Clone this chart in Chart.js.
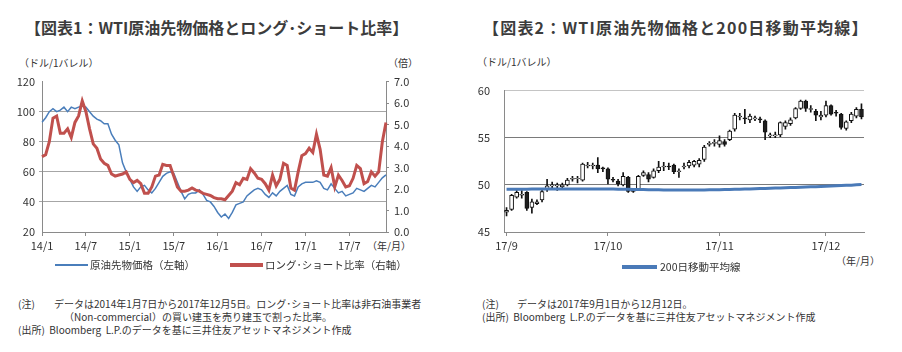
<!DOCTYPE html>
<html>
<head>
<meta charset="utf-8">
<script src="https://cdn.jsdelivr.net/npm/chart.js@4.4.1/dist/chart.umd.min.js"></script>
<style>
  body { margin: 0; background: #fff; font-family: 'Noto Sans CJK JP', 'Noto Sans', sans-serif; color: #333; }
  #page { position: relative; width: 902px; height: 352px; overflow: hidden; }
  .abs { position: absolute; white-space: nowrap; }
  .title { font-size: 16px; font-weight: bold; color: #3c3c3c; top: 17px; line-height: 20px; }
  .unit { font-size: 10px; line-height: 12px; color: #333; }
  .leg { font-size: 10.5px; line-height: 12px; color: #333; }
  .note { font-size: 10px; line-height: 12px; color: #333; }
  .sw { position: absolute; }
  canvas { position: absolute; }
</style>
</head>
<body>
<div id="page">
  <div class="abs title" style="left:25px;">【図表1：WTI原油先物価格とロング･ショート比率】</div>
  <div class="abs title" style="left:483px; letter-spacing:1.2px;">【図表2：WTI原油先物価格と200日移動平均線】</div>

  <div class="abs unit" style="left:19px; top:57px;">（ドル/1バレル）</div>
  <div class="abs unit" style="left:388px; top:57px;">（倍）</div>
  <div class="abs unit" style="left:367px; top:240px;">（年/月）</div>
  <div class="abs unit" style="left:477px; top:56px;">（ドル/1バレル）</div>
  <div class="abs unit" style="left:836px; top:255px;">（年/月）</div>

  <canvas id="c1" width="420" height="190" style="left:0px; top:70px;"></canvas>
  <canvas id="c2" width="430" height="190" style="left:455px; top:70px;"></canvas>

  <div class="sw" style="left:55px; top:264px; width:33px; height:2px; background:#4a7ebb;"></div>
  <div class="abs leg" style="left:90px; top:259px;">原油先物価格（左軸）</div>
  <div class="sw" style="left:230px; top:263px; width:33px; height:4px; background:#c0504d;"></div>
  <div class="abs leg" style="left:265px; top:259px;">ロング･ショート比率（右軸）</div>

  <div class="sw" style="left:622px; top:265px; width:35px; height:4px; background:#4a7ab8;"></div>
  <div class="abs leg" style="left:660px; top:261px;">200日移動平均線</div>

  <div class="abs note" style="left:18px; top:298px;">(注)</div>
  <div class="abs note" style="left:54px; top:298px;">データは2014年1月7日から2017年12月5日。ロング･ショート比率は非石油事業者</div>
  <div class="abs note" style="left:64px; top:311px;">（Non-commercial）の買い建玉を売り建玉で割った比率。</div>
  <div class="abs note" style="left:18px; top:324px;">(出所)&nbsp; Bloomberg&nbsp; L.P.のデータを基に三井住友アセットマネジメント作成</div>

  <div class="abs note" style="left:482px; top:298px;">(注)</div>
  <div class="abs note" style="left:517px; top:298px;">データは2017年9月1日から12月12日。</div>
  <div class="abs note" style="left:482px; top:311px;">(出所)&nbsp; Bloomberg&nbsp; L.P.のデータを基に三井住友アセットマネジメント作成</div>
</div>

<script>
// ---- chart 1: WTI price and long/short ratio (two points per month) ----
const months = [
  '14/1','14/2','14/3','14/4','14/5','14/6','14/7','14/8','14/9','14/10','14/11','14/12',
  '15/1','15/2','15/3','15/4','15/5','15/6','15/7','15/8','15/9','15/10','15/11','15/12',
  '16/1','16/2','16/3','16/4','16/5','16/6','16/7','16/8','16/9','16/10','16/11','16/12',
  '17/1','17/2','17/3','17/4','17/5','17/6','17/7','17/8','17/9','17/10','17/11','17/12'
];
const wtiPrice = [
  93, 96, 100, 102, 100, 101, 103, 100, 103, 102,
  103, 104, 103, 100, 97, 95, 94, 92, 92, 85,
  81, 78, 66, 60, 55, 50, 47, 50, 51, 48,
  46, 49, 53, 57, 59, 60, 59, 53, 47, 42,
  45, 46, 46, 48, 45, 41, 40, 37, 33, 30,
  32, 29, 33, 38, 39, 40, 44, 46, 48, 49,
  48, 45, 43, 46, 44, 47, 49, 51, 45, 44,
  50, 52, 53, 53, 53, 54, 53, 49, 48, 52,
  49, 46, 47, 44, 45, 46, 49, 48, 47, 49,
  51, 50, 53, 56, 58
];
const lsRatio = [
  3.5, 3.6, 4.2, 5.3, 5.4, 4.6, 4.6, 4.8, 4.4, 5.1,
  5.4, 6.1, 5.6, 4.8, 4.1, 3.9, 3.4, 3.2, 3.1, 2.7,
  2.6, 2.65, 2.7, 2.8, 2.45, 2.3, 2.4, 2.25, 1.8, 1.8,
  2.1, 2.6, 2.65, 3.15, 3.1, 3.1, 2.6, 2.1, 1.9, 1.9,
  1.95, 2.05, 1.95, 1.9, 1.8, 1.75, 1.7, 1.6, 1.55, 1.55,
  1.5, 1.7, 1.9, 2.3, 2.2, 2.5, 2.45, 2.95, 2.75, 2.5,
  2.45, 2.25, 1.95, 2.65, 2.15, 2.45, 3.2, 3.1, 2.05, 1.95,
  2.8, 3.55, 3.65, 3.9, 3.7, 4.55, 3.85, 2.65, 2.6, 3.0,
  2.1, 2.65, 2.4, 2.1, 2.15, 2.5, 3.1, 2.95, 2.25, 2.35,
  2.8, 2.6, 2.8, 4.2, 5.1
];

// ---- chart 2: daily candles and 200-day moving average ----
const tradeDays = [
  '9/1','9/5','9/6','9/7','9/8','9/11','9/12','9/13','9/14','9/15',
  '9/18','9/19','9/20','9/21','9/22','9/25','9/26','9/27','9/28','9/29',
  '10/2','10/3','10/4','10/5','10/6','10/9','10/10','10/11','10/12','10/13',
  '10/16','10/17','10/18','10/19','10/20','10/23','10/24','10/25','10/26','10/27',
  '10/30','10/31',
  '11/1','11/2','11/3','11/6','11/7','11/8','11/9','11/10','11/13','11/14',
  '11/15','11/16','11/17','11/20','11/21','11/22','11/24','11/27','11/28','11/29',
  '11/30',
  '12/1','12/4','12/5','12/6','12/7','12/8','12/11','12/12'
];
const openP = [
  47.1, 47.4, 48.7, 48.9, 49.2, 47.6, 48.0, 48.4, 49.5, 49.9,
  49.9, 49.8, 50.0, 50.6, 50.65, 50.5, 52.0, 52.0, 52.1, 51.8,
  51.7, 50.6, 50.4, 50.0, 50.8, 49.5, 49.6, 51.0, 51.1, 50.8,
  51.5, 51.9, 52.0, 52.1, 51.4, 51.9, 52.0, 52.1, 52.2, 52.7,
  54.3, 54.4, 54.3, 54.6, 54.8, 55.9, 57.2, 57.1, 56.9, 57.0,
  57.0, 56.8, 55.2, 55.2, 55.3, 56.2, 56.5, 57.1, 58.1, 58.9,
  58.0, 57.8, 57.2, 57.4, 58.4, 57.7, 57.5, 56.0, 56.8, 57.3,
  58.0
];
const highP = [
  47.6, 49.0, 49.4, 49.4, 49.3, 48.5, 48.4, 49.5, 50.6, 50.3,
  50.2, 50.2, 50.7, 50.9, 50.9, 52.3, 52.4, 52.3, 52.9, 51.9,
  51.8, 50.8, 50.6, 51.3, 50.9, 49.6, 51.0, 51.5, 51.3, 51.7,
  52.5, 52.4, 52.3, 52.2, 51.7, 52.3, 52.6, 52.6, 52.8, 54.2,
  54.6, 54.8, 55.2, 54.8, 55.8, 57.6, 57.6, 58.0, 57.5, 57.3,
  57.2, 56.9, 55.5, 55.6, 56.7, 56.8, 57.1, 58.2, 59.0, 59.0,
  58.4, 58.0, 57.8, 58.9, 58.5, 57.9, 57.6, 56.8, 57.7, 58.2,
  58.6
];
const lowP = [
  46.7, 47.3, 48.6, 48.6, 47.3, 47.0, 47.9, 48.2, 49.3, 49.5,
  49.4, 49.5, 49.9, 50.4, 50.2, 50.4, 51.8, 51.7, 51.3, 51.4,
  50.1, 50.3, 49.9, 49.9, 49.2, 49.2, 49.5, 50.9, 50.3, 50.7,
  51.3, 51.5, 51.6, 51.2, 50.8, 51.7, 51.8, 51.9, 51.9, 52.5,
  54.1, 54.1, 54.0, 54.1, 54.7, 55.7, 56.9, 56.5, 56.6, 56.8,
  56.6, 54.8, 55.0, 55.0, 55.1, 55.9, 56.3, 57.0, 58.0, 57.8,
  57.7, 56.8, 56.9, 57.2, 57.4, 57.3, 55.9, 55.8, 56.6, 57.1,
  57.0
];
const closeP = [
  47.3, 48.9, 49.2, 49.0, 47.5, 48.2, 48.2, 49.3, 49.9, 50.0,
  50.0, 50.0, 50.5, 50.7, 50.7, 52.2, 52.1, 52.1, 51.7, 51.7,
  50.6, 50.5, 50.1, 50.9, 49.3, 49.3, 50.9, 51.3, 50.6, 51.5,
  51.9, 52.0, 51.9, 51.4, 51.5, 52.0, 52.4, 52.5, 52.6, 54.0,
  54.4, 54.5, 54.7, 54.3, 55.7, 57.4, 57.3, 57.0, 57.3, 57.1,
  56.9, 55.6, 55.3, 55.3, 56.6, 56.6, 56.9, 58.1, 58.9, 58.1,
  58.1, 57.4, 57.4, 58.4, 57.5, 57.6, 56.1, 56.7, 57.5, 58.0,
  57.2
];
const ma200 = [
  49.53, 49.53, 49.54, 49.54, 49.54, 49.55, 49.55, 49.55, 49.56, 49.56,
  49.56, 49.56, 49.57, 49.57, 49.57, 49.57, 49.57, 49.56, 49.56, 49.56,
  49.55, 49.55, 49.54, 49.54, 49.53, 49.52, 49.51, 49.50, 49.49, 49.48,
  49.47, 49.46, 49.46, 49.45, 49.45, 49.45, 49.45, 49.45, 49.46, 49.46,
  49.47, 49.48,
  49.49, 49.50, 49.51, 49.53, 49.54, 49.56, 49.57, 49.59, 49.61, 49.62,
  49.64, 49.66, 49.68, 49.70, 49.71, 49.73, 49.75, 49.77, 49.79, 49.81,
  49.83,
  49.85, 49.88, 49.90, 49.92, 49.95, 49.97, 50.00, 50.03
];

const FONT = { family: "'Noto Sans CJK JP', 'Noto Sans', sans-serif", size: 11 };
Chart.defaults.font = FONT;
Chart.defaults.color = '#333';

// left chart
const pointLabels = wtiPrice.map((_, i) => i % 2 === 0 ? months[i / 2] : '');
const isHalfYear = lbl => lbl.endsWith('/1') || lbl.endsWith('/7');

new Chart(document.getElementById('c1'), {
  type: 'line',
  data: {
    labels: pointLabels,
    datasets: [
      { label: '原油先物価格（左軸）', data: wtiPrice, borderColor: '#4a7ebb', borderWidth: 1.5,
        pointRadius: 0, yAxisID: 'y', order: 1 },
      { label: 'ロング･ショート比率（右軸）', data: lsRatio, borderColor: '#c0504d', borderWidth: 3,
        pointRadius: 0, yAxisID: 'y2', order: 0 }
    ]
  },
  options: {
    animation: false, responsive: false,
    layout: { padding: { top: 9, left: 0, right: 0, bottom: 0 } },
    plugins: { legend: { display: false }, tooltip: { enabled: false } },
    scales: {
      x: {
        offset: false,
        border: { color: '#8a8a8a' },
        grid: {
          drawOnChartArea: false, tickLength: 4,
          color: ctx => (ctx.tick && isHalfYear(pointLabels[ctx.index] || '')) ? '#8a8a8a' : 'transparent'
        },
        ticks: {
          autoSkip: false, maxRotation: 0, padding: 3,
          callback: (v, i) => isHalfYear(pointLabels[i]) ? pointLabels[i] : ''
        },
        afterFit: s => { s.height = 28; }
      },
      y: {
        position: 'left', min: 20, max: 120,
        border: { color: '#8a8a8a' },
        grid: { color: ctx => (ctx.tick.value === 20 || ctx.tick.value === 120) ? 'transparent' : '#a6a6a6', tickLength: 3 },
        ticks: { stepSize: 20, padding: 4 },
        afterFit: s => { s.width = 42; }
      },
      y2: {
        position: 'right', min: 0, max: 7,
        border: { color: '#8a8a8a' },
        grid: { drawOnChartArea: false, tickLength: 3, color: '#8a8a8a' },
        ticks: { stepSize: 1, padding: 5, callback: v => v.toFixed(1) },
        afterFit: s => { s.width = 34; }
      }
    }
  }
});

// right chart
const wicks = lowP.map((l, i) => [l, highP[i]]);
const bodies = openP.map((o, i) => [o, closeP[i]]);
const monthStart = tradeDays.map((d, i) => i === 0 || d.split('/')[0] !== tradeDays[i - 1].split('/')[0]);

new Chart(document.getElementById('c2'), {
  data: {
    labels: tradeDays,
    datasets: [
      { type: 'line', label: '200日移動平均線', data: ma200, borderColor: '#4a7ab8', borderWidth: 3,
        pointRadius: 0, order: 0 },
      { type: 'bar', label: 'body', data: bodies, grouped: false, barThickness: 4,
        backgroundColor: ctx => openP[ctx.dataIndex] <= closeP[ctx.dataIndex] ? '#ffffff' : '#1e1e1e',
        borderColor: '#111', borderWidth: 1, borderSkipped: false, order: 1 },
      { type: 'bar', label: 'wick', data: wicks, grouped: false, barThickness: 1,
        backgroundColor: '#111', borderWidth: 0, order: 2 }
    ]
  },
  options: {
    animation: false, responsive: false,
    layout: { padding: { top: 15, right: 21, left: 0, bottom: 0 } },
    plugins: { legend: { display: false }, tooltip: { enabled: false } },
    scales: {
      x: {
        offset: true,
        border: { color: '#8a8a8a' },
        grid: {
          drawOnChartArea: false, tickLength: 4, offset: false,
          color: ctx => (ctx.tick && monthStart[ctx.index]) ? '#8a8a8a' : 'transparent'
        },
        ticks: {
          autoSkip: false, maxRotation: 0, padding: 3,
          callback: (v, i) => monthStart[i] ? '17/' + tradeDays[i].split('/')[0] : ''
        },
        afterFit: s => { s.height = 28; }
      },
      y: {
        min: 45, max: 60,
        border: { color: '#8a8a8a' },
        grid: {
          drawTicks: false,
          color: ctx => ctx.tick.value === 60 ? '#c4c4c4' : (ctx.tick.value === 45 ? 'transparent' : '#7a7a7a')
        },
        ticks: { stepSize: 5, padding: 14 },
        afterFit: s => { s.width = 49; }
      }
    }
  }
});
</script>
</body>
</html>
